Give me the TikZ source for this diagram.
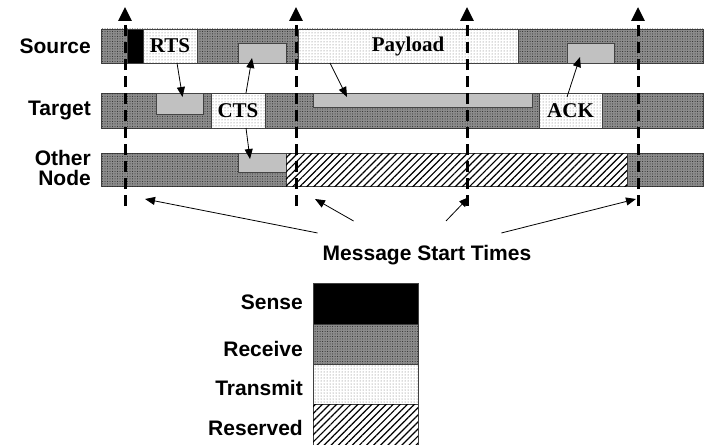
\documentclass[tikz,border=0pt]{standalone}
\usepackage{fontspec}
\setmainfont{Liberation Serif}
\setsansfont{Liberation Sans}
\usetikzlibrary{positioning,patterns.meta,arrows.meta}

\tikzset{
  seg/.style={inner sep=0pt, outer sep=0pt, anchor=north west, draw=black!75, line width=0.8pt,
    font=\rmfamily\bfseries\fontsize{21}{23}\selectfont},
  recv/.style={seg, fill=black!45, postaction={pattern={Dots[distance=2.5pt,radius=0.5pt]}, pattern color=black!85}},
  xmit/.style={seg, fill=white, postaction={pattern={Dots[distance=3pt,radius=0.5pt]}, pattern color=black!60}},
  rxbox/.style={seg, fill=black!22, postaction={pattern={Dots[distance=2pt,radius=0.45pt]}, pattern color=black!50}},
  resv/.style={seg, fill=white, postaction={pattern={Lines[angle=45,distance=5pt,line width=1.2pt]}, pattern color=black}},
  sense/.style={seg, fill=black},
  lbl/.style={font=\sffamily\bfseries\fontsize{21}{18}\selectfont, align=right, inner sep=0pt},
  tline/.style={line width=3pt, dash pattern=on 11pt off 6pt, -{Triangle[length=14pt,width=13pt]}},
  msg/.style={line width=0.8pt, -{Triangle[length=10pt,width=8pt]}},
}

\begin{document}
\begin{tikzpicture}[x=1pt,y=-1pt]
\useasboundingbox (0,0) rectangle (711,444);
% rows
\node[recv, minimum width=602, minimum height=34] (srcbar) at (101,29) {};
\node[recv, minimum width=602, minimum height=35] (tgtbar) at (101,93) {};
\node[recv, minimum width=602, minimum height=33] (othbar) at (101,153) {};
% source
\node[sense, minimum width=16, minimum height=34] (sns) at (127,29) {};
\node[xmit, minimum width=54, minimum height=34] (rts) at (143,29) {RTS};
\node[rxbox, minimum width=48, minimum height=20] (ctsrx) at (238,43) {};
\node[xmit, minimum width=220, minimum height=34] (pay) at (298,29) {Payload};
\node[rxbox, minimum width=47, minimum height=20] (ackrx) at (567,43) {};
% target
\node[rxbox, minimum width=47, minimum height=21] (rtsrx) at (156,93) {};
\node[xmit, minimum width=54, minimum height=35] (cts) at (211,93) {CTS};
\node[rxbox, minimum width=219, minimum height=14] (payrx) at (313,93) {};
\node[xmit, minimum width=63, minimum height=35] (ack) at (539,93) {ACK};
% other node
\node[rxbox, minimum width=48, minimum height=19] (ctsrx2) at (238,153) {};
\node[resv, minimum width=341, minimum height=33] (nav) at (286,153) {};
% row labels
\node[lbl, anchor=east] (lsrc) at (91,46) {Source};
\node[lbl, anchor=east] (ltgt) at (91,110) {Target};
\node[lbl, anchor=east, font=\sffamily\bfseries\fontsize{21}{20}\selectfont] (loth) at (91,168) {Other\\Node};
% start times
\coordinate (s1) at (125,206); \coordinate (e1) at (125,7);
\coordinate (s2) at (296,206); \coordinate (e2) at (296,7);
\coordinate (s3) at (467,206); \coordinate (e3) at (467,7);
\coordinate (s4) at (638,206); \coordinate (e4) at (638,7);
\draw[tline] (s1) -- (e1);
\draw[tline] (s2) -- (e2);
\draw[tline] (s3) -- (e3);
\draw[tline] (s4) -- (e4);
% messages
\draw[msg] ([xshift=7pt]rts.south) -- ([xshift=3pt,yshift=-4pt]rtsrx.north);
\draw[msg] ([xshift=8pt]cts.north) -- ([xshift=-10pt,yshift=-15pt]ctsrx.north);
\draw[msg] ([xshift=8pt]cts.south) -- ([xshift=-12pt,yshift=-6pt]ctsrx2.north);
\draw[msg] ([xshift=-78pt]pay.south) -- ([xshift=-75.5pt,yshift=-4pt]payrx.north);
\draw[msg] ([xshift=-3.5pt,yshift=-4pt]ack.north) -- ([xshift=-10.5pt,yshift=-14pt]ackrx.north);
% caption
\node[lbl] (mst) at (427,255) {Message Start Times};
\coordinate (tip1) at (145,199);
\coordinate (tip2) at (315,199);
\coordinate (tip3) at (469,197);
\coordinate (tip4) at (636,199);
\draw[msg] ([xshift=-5pt,yshift=12pt]mst.north west) -- (tip1);
\draw[msg] ([xshift=31pt,yshift=24pt]mst.north west) -- (tip2);
\draw[msg] ([xshift=19pt,yshift=24pt]mst.north) -- (tip3);
\draw[msg] ([xshift=-30pt,yshift=12pt]mst.north east) -- (tip4);
% legend
\node[sense, minimum width=105, minimum height=41] (lgsense) at (313,283) {};
\node[recv, minimum width=105, minimum height=40, below=0pt of lgsense] (lgrecv) {};
\node[xmit, minimum width=105, minimum height=40, below=0pt of lgrecv] (lgxmit) {};
\node[resv, minimum width=105, minimum height=41, below=0pt of lgxmit] (lgresv) {};
\node[lbl, anchor=east] (tsense) at (303,302) {Sense};
\node[lbl, anchor=east] (trecv) at (303,349) {Receive};
\node[lbl, anchor=east] (txmit) at (303,388) {Transmit};
\node[lbl, anchor=east] (tresv) at (303,428) {Reserved};
\end{tikzpicture}
\end{document}
